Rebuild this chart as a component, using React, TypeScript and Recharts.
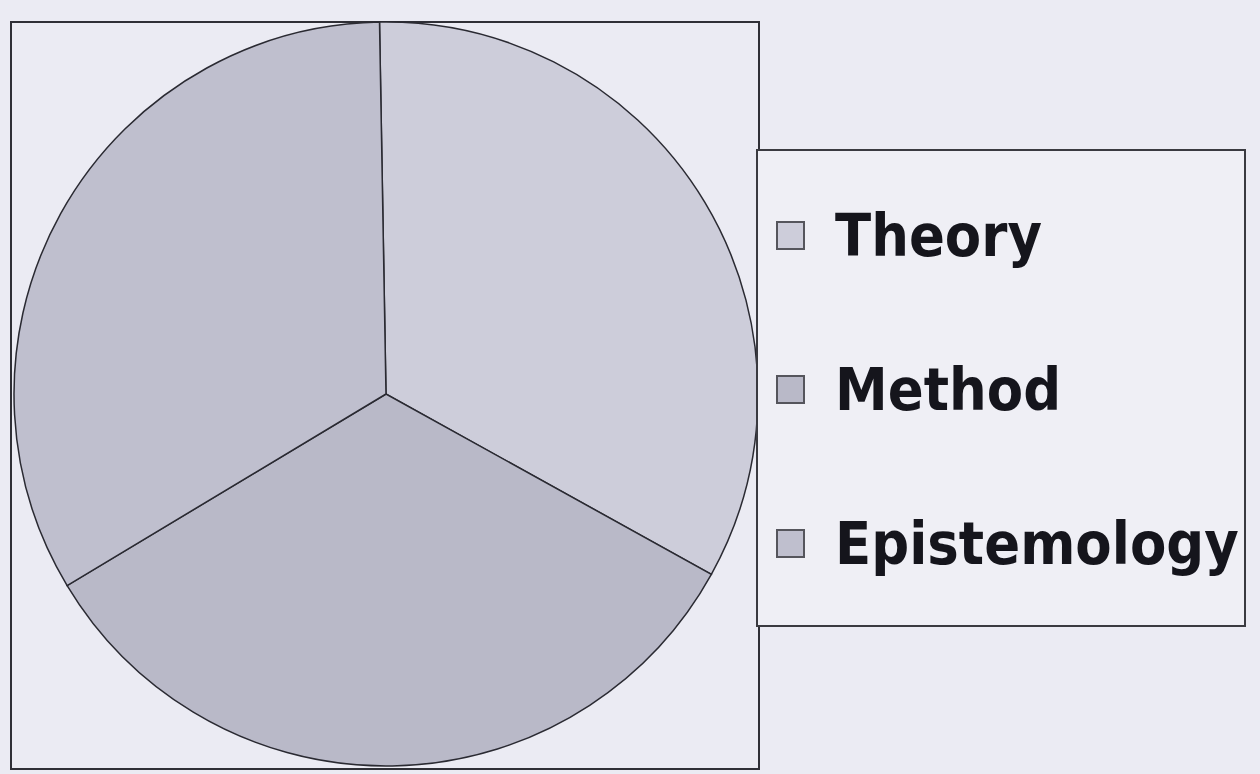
import { PieChart, Pie, Cell, Legend } from "recharts";

const categories = ["Theory", "Method", "Epistemology"];
const shares = [1, 1, 1];
const sliceColors = ["#cdcdda", "#b9b9c8", "#bfbfce"];

const data = categories.map((name, i) => ({ name, value: shares[i], color: sliceColors[i] }));

function LegendBox() {
  return (
    <div
      style={{
        position: "absolute",
        left: 756,
        top: 149,
        width: 490,
        height: 478,
        border: "2px solid #3a3a40",
        background: "#efeff5",
        boxSizing: "border-box",
      }}
    >
      {data.map((d, i) => (
        <div
          key={d.name}
          style={{
            position: "absolute",
            left: 18,
            top: 58 + i * 154,
            display: "flex",
            alignItems: "center",
            gap: 30,
          }}
        >
          <span
            style={{
              width: 29,
              height: 29,
              background: d.color,
              border: "2px solid #55555c",
              boxSizing: "border-box",
              display: "inline-block",
            }}
          />
          <span
            style={{
              fontFamily: "'DejaVu Sans', Verdana, sans-serif",
              fontWeight: "bold",
              fontSize: 53,
              color: "#15151c",
              display: "inline-block",
              transform: "scaleY(1.12)",
              lineHeight: 1,
            }}
          >
            {d.name}
          </span>
        </div>
      ))}
    </div>
  );
}

export default function App() {
  return (
    <div
      style={{
        position: "fixed",
        left: 0,
        top: 0,
        width: 1260,
        height: 774,
        background: "#ebebf3",
        overflow: "hidden",
      }}
    >
      <div
        style={{
          position: "absolute",
          left: 10,
          top: 21,
          width: 750,
          height: 749,
          border: "2px solid #2f2f36",
          boxSizing: "border-box",
        }}
      />
      <div style={{ position: "absolute", left: 0, top: 0 }}>
        <PieChart width={1260} height={774}>
          <Pie
            data={data}
            dataKey="value"
            nameKey="name"
            cx={381}
            cy={389}
            outerRadius={372}
            startAngle={91}
            endAngle={-269}
            stroke="#2a2a32"
            strokeWidth={1.5}
            isAnimationActive={false}
          >
            {data.map((d) => (
              <Cell key={d.name} fill={d.color} />
            ))}
          </Pie>
          <Legend content={() => null} />
        </PieChart>
      </div>
      <LegendBox />
    </div>
  );
}
